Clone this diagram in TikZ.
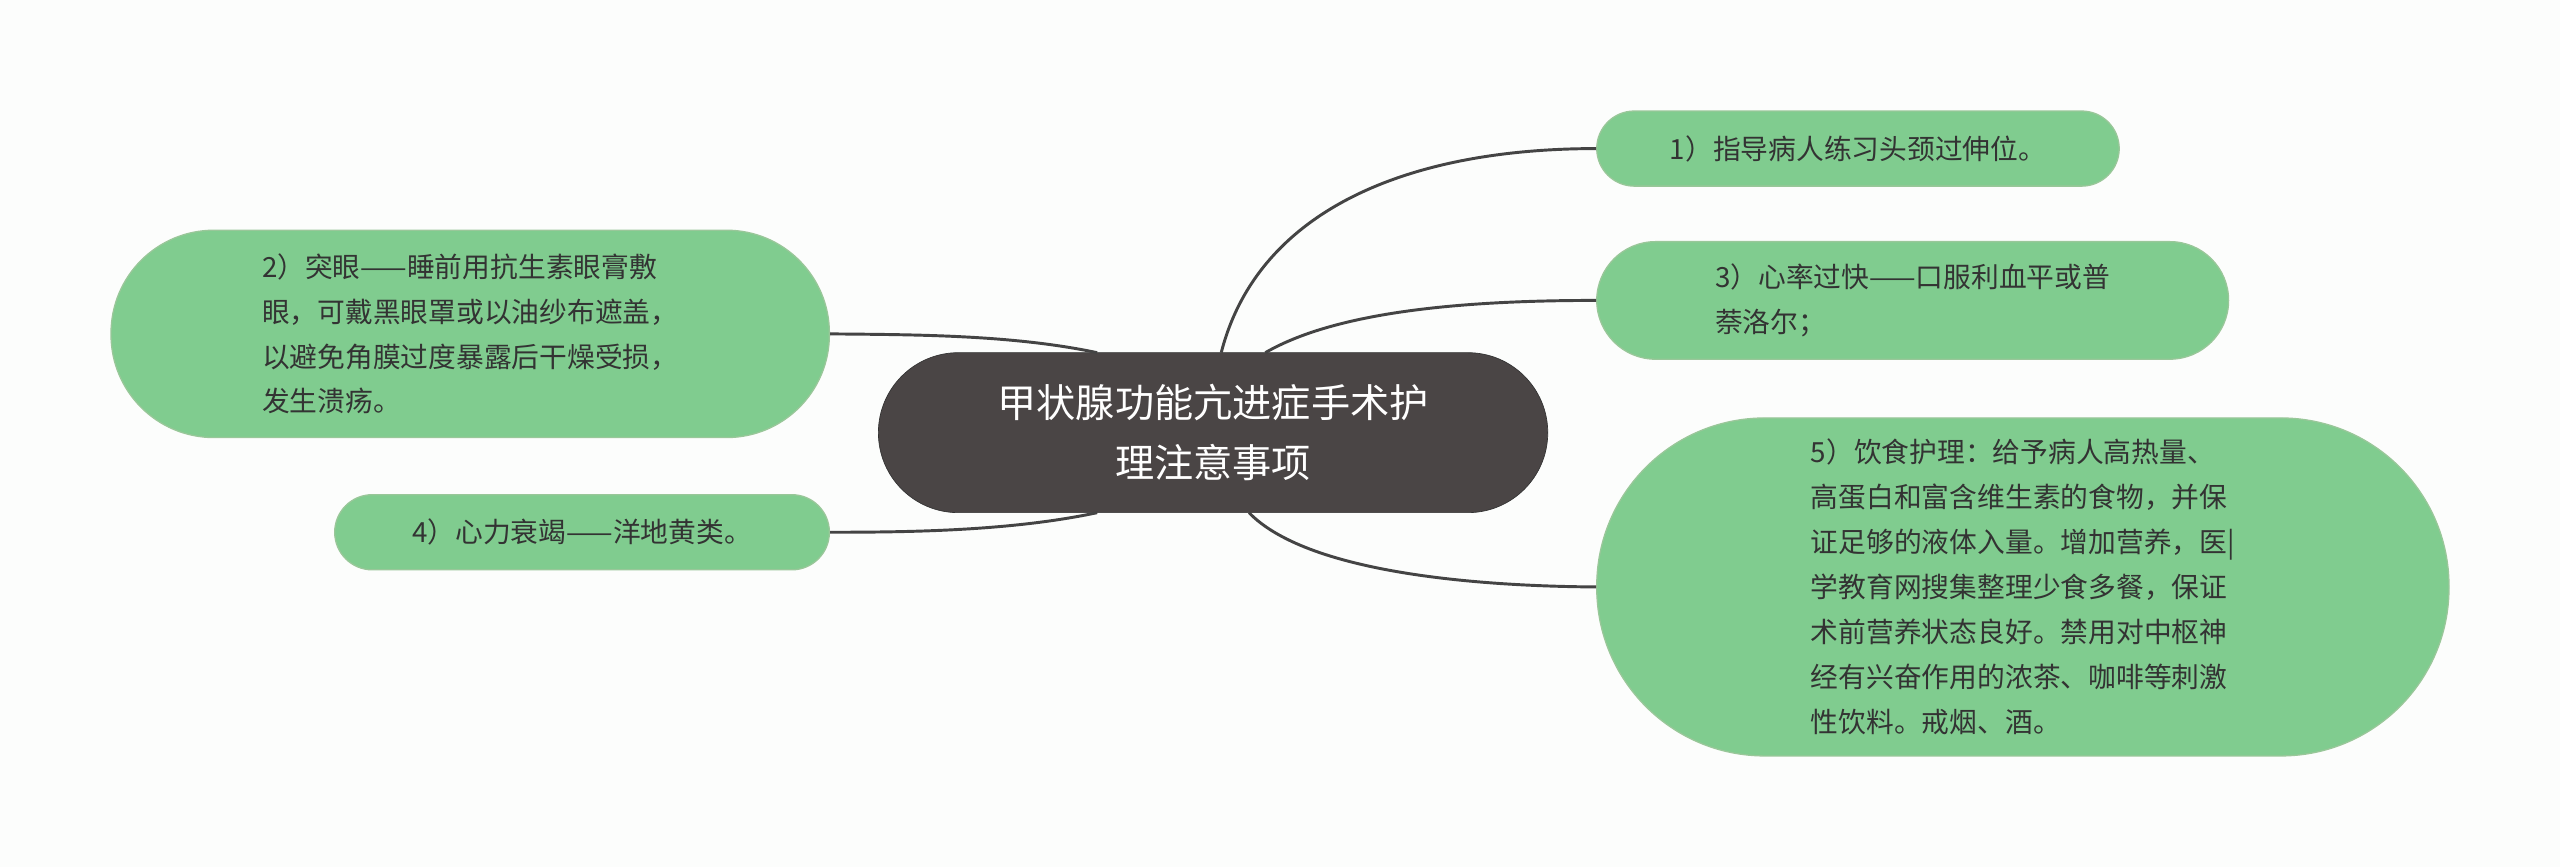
\documentclass[tikz,border=0pt]{standalone}
\usepackage{fontspec}
\setmainfont{Noto Sans CJK SC}
\begin{document}
\begin{tikzpicture}[x=1pt,y=-1pt,
 leaf/.style={draw=green!45!black!40!white,fill={rgb,255:red,128;green,204;blue,143},line width=0.8pt,text={rgb,255:red,51;green,51;blue,51},font=\fontsize{17}{27.5}\selectfont,align=left,inner sep=0pt},
 conn/.style={draw={rgb,255:red,68;green,68;blue,68},line width=1.8pt}]
\useasboundingbox[fill={rgb,255:red,252;green,253;blue,252}] (0,0) rectangle (1568,531);
\node[leaf,minimum width=320,minimum height=46,rounded corners=23] (n1) at (1138,91) {1）指导病人练习头颈过伸位。};
\node[leaf,minimum width=387,minimum height=72,rounded corners=36] (n3) at (1171.5,184) {3）心率过快——口服利血平或普\\萘洛尔；};
\node[leaf,minimum width=522,minimum height=207,rounded corners=103] (n5) at (1239,359.5) {5）饮食护理：给予病人高热量、\\高蛋白和富含维生素的食物，并保\\证足够的液体入量。增加营养，医|\\学教育网搜集整理少食多餐，保证\\术前营养状态良好。禁用对中枢神\\经有兴奋作用的浓茶、咖啡等刺激\\性饮料。戒烟、酒。};
\node[leaf,minimum width=440,minimum height=127,rounded corners=63] (n2) at (288,204.5) {2）突眼——睡前用抗生素眼膏敷\\眼，可戴黑眼罩或以油纱布遮盖，\\以避免角膜过度暴露后干燥受损，\\发生溃疡。};
\node[leaf,minimum width=303,minimum height=46,rounded corners=23] (n4) at (356.5,326) {4）心力衰竭——洋地黄类。};
\node[draw={rgb,255:red,50;green,50;blue,50},fill={rgb,255:red,74;green,69;blue,69},minimum width=410,minimum height=98,rounded corners=49,text=white,font=\fontsize{24}{37}\selectfont,align=center,inner sep=0pt] (c) at (743,265) {甲状腺功能亢进症手术护\\理注意事项};
\draw[conn] (748,216) .. controls (770,130) and (860,91) .. (n1.west);
\draw[conn] (775,216) .. controls (820,190) and (900,184) .. (n3.west);
\draw[conn] (765,314) .. controls (800,350) and (900,359) .. (n5.west);
\draw[conn] (672,216) .. controls (620,205) and (560,205) .. (n2.east);
\draw[conn] (672,314) .. controls (620,325) and (560,326) .. (n4.east);
\end{tikzpicture}
\end{document}
